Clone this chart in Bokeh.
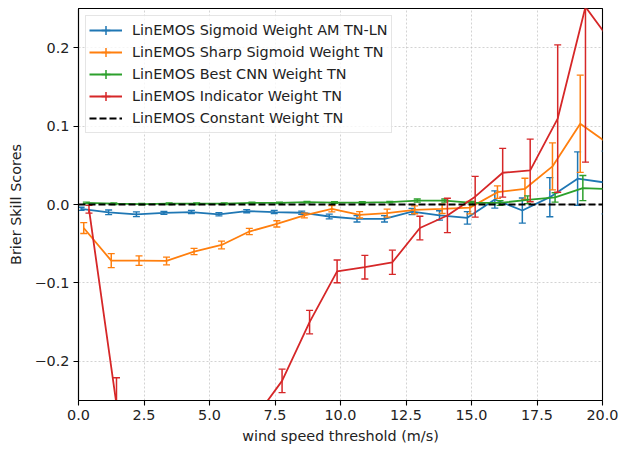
from bokeh.plotting import figure
from bokeh.models import ColumnDataSource, FixedTicker, Legend, LegendItem, Range1d
from bokeh.embed import file_html
from bokeh.resources import INLINE

# ---------------- data ----------------
thresholds = [0.0, 1.05, 2.11, 3.16, 4.21, 5.26, 6.32, 7.37, 8.42, 9.47,
              10.53, 11.58, 12.63, 13.68, 14.74, 15.79, 16.84, 17.89, 18.95, 20.0]

sigmoid_am = [-0.0055, -0.010, -0.0125, -0.0107, -0.0096, -0.0125, -0.0085, -0.0096, -0.0105, -0.0153,
              -0.0183, -0.0183, -0.009, -0.014, -0.017, 0.0064, -0.0077, 0.0094, 0.033, 0.028]
sigmoid_am_err = [0.002, 0.003, 0.003, 0.002, 0.002, 0.002, 0.002, 0.002, 0.002, 0.003,
                  0.004, 0.004, 0.004, 0.006, 0.008, 0.011, 0.016, 0.025, 0.034, 0.04]

sharp_sigmoid = [-0.030, -0.0716, -0.0716, -0.072, -0.060, -0.0516, -0.0345, -0.0247, -0.014, -0.0055,
                 -0.0132, -0.011, -0.0068, -0.0055, -0.004, 0.0157, 0.020, 0.0486, 0.103, 0.078]
sharp_sigmoid_err = [0.007, 0.009, 0.006, 0.005, 0.004, 0.005, 0.004, 0.004, 0.003, 0.004,
                     0.004, 0.005, 0.005, 0.006, 0.008, 0.008, 0.0135, 0.030, 0.062, 0.07]

best_cnn = [0.002, 0.001, 0.0005, 0.001, 0.001, 0.001, 0.002, 0.002, 0.003, 0.0025,
            0.0025, 0.003, 0.005, 0.005, 0.002, 0.002, 0.006, 0.009, 0.021, 0.0197]
best_cnn_err = [0.001, 0.001, 0.001, 0.001, 0.001, 0.001, 0.001, 0.001, 0.001, 0.001,
                0.001, 0.001, 0.002, 0.002, 0.002, 0.003, 0.005, 0.006, 0.016, 0.018]

indicator = [-0.006, -0.255, -0.33, -0.36, -0.35, -0.32, -0.273, -0.225, -0.150, -0.0853,
             -0.080, -0.0737, -0.030, -0.014, 0.010, 0.0405, 0.0435, 0.1096, 0.252, 0.2045]
indicator_err = [0.005, 0.034, 0.03, 0.03, 0.03, 0.025, 0.018, 0.015, 0.015, 0.0145,
                 0.015, 0.0155, 0.015, 0.022, 0.026, 0.031, 0.04, 0.094, 0.198, 0.2]

constant = [0.0] * 20

series_labels = ["LinEMOS Sigmoid Weight AM TN-LN", "LinEMOS Sharp Sigmoid Weight TN",
                 "LinEMOS Best CNN Weight TN", "LinEMOS Indicator Weight TN"]
constant_label = "LinEMOS Constant Weight TN"

x_ticks = [0, 2.5, 5, 7.5, 10, 12.5, 15, 17.5, 20]
x_tick_labels = ["0.0", "2.5", "5.0", "7.5", "10.0", "12.5", "15.0", "17.5", "20.0"]
y_ticks = [-0.2, -0.1, 0.0, 0.1, 0.2]
y_tick_labels = ["\u22120.2", "\u22120.1", "0.0", "0.1", "0.2"]

colors = ["#1f77b4", "#ff7f0e", "#2ca02c", "#d62728"]
dodge = [0.1, 0.2, 0.3, 0.4]

FONT = "DejaVu Sans"
FS = "14.4px"

# ---------------- figure ----------------
p = figure(width=619, height=449, x_range=Range1d(0, 20), y_range=Range1d(-0.25, 0.25),
           output_backend="svg", toolbar_location=None,
           min_border_left=78, min_border_right=17, min_border_top=8, min_border_bottom=49)
p.background_fill_color = "white"
p.border_fill_color = "white"
p.outline_line_color = "black"
p.outline_line_width = 1.1
p.outline_line_alpha = 1.0

for ax in (p.xaxis[0], p.yaxis[0]):
    ax.major_tick_in = 0
    ax.major_tick_out = 5
    ax.minor_tick_line_color = None
    ax.major_label_text_font = FONT
    ax.major_label_text_font_size = FS
    ax.major_label_text_color = "#222222"
    ax.axis_label_text_font = FONT
    ax.axis_label_text_font_size = FS
    ax.axis_label_text_font_style = "normal"
    ax.axis_label_text_color = "#222222"
    ax.axis_line_color = "black"
    ax.axis_line_width = 1.1
    ax.major_tick_line_width = 1.1

p.xaxis.ticker = FixedTicker(ticks=x_ticks)
p.xaxis.major_label_overrides = dict(zip(x_ticks, x_tick_labels))
p.yaxis.ticker = FixedTicker(ticks=y_ticks)
p.yaxis.major_label_overrides = dict(zip(y_ticks, y_tick_labels))
p.xaxis.axis_label = "wind speed threshold (m/s)"
p.yaxis.axis_label = "Brier Skill Scores"
p.xaxis.axis_label_standoff = 5
p.yaxis.axis_label_standoff = 8
p.xaxis.major_label_standoff = 4
p.yaxis.major_label_standoff = 4

for g in (p.xgrid[0], p.ygrid[0]):
    g.grid_line_color = "#c0c0c0"
    g.grid_line_dash = "2 2"
    g.grid_line_width = 0.7

# ---------------- series ----------------
items = []
all_vals = [sigmoid_am, sharp_sigmoid, best_cnn, indicator]
all_errs = [sigmoid_am_err, sharp_sigmoid_err, best_cnn_err, indicator_err]
for label, vals, errs, color, off in zip(series_labels, all_vals, all_errs, colors, dodge):
    xs = [t + off for t in thresholds]
    src = ColumnDataSource(dict(
        x=xs, y=vals,
        lo=[v - e for v, e in zip(vals, errs)],
        hi=[v + e for v, e in zip(vals, errs)],
    ))
    p.segment(x0="x", y0="lo", x1="x", y1="hi", source=src, line_color=color, line_width=1.5)
    p.scatter(x="x", y="lo", source=src, marker="dash", size=7, line_color=color, line_width=1.3)
    p.scatter(x="x", y="hi", source=src, marker="dash", size=7, line_color=color, line_width=1.3)
    lr = p.line(x="x", y="y", source=src, line_color=color, line_width=1.8)
    # legend-only error bar icon (zero size on the plot)
    icon = p.scatter(x="x", y="y", source=src, marker="cross", size=0, line_color=color, line_width=1.5)
    items.append(LegendItem(label=label, renderers=[lr, icon]))

csrc = ColumnDataSource(dict(x=thresholds, y=constant))
cr = p.line(x="x", y="y", source=csrc, line_color="black", line_width=1.8, line_dash="7 3")
items.append(LegendItem(label=constant_label, renderers=[cr]))

legend = Legend(items=items, location="top_left")
legend.margin = 7
legend.padding = 3
legend.spacing = 0
legend.glyph_height = 22
legend.glyph_width = 33
legend.label_standoff = 10
legend.label_height = 16
legend.label_text_font = FONT
legend.label_text_font_size = FS
legend.label_text_color = "#222222"
legend.background_fill_color = "white"
legend.background_fill_alpha = 0.8
legend.border_line_color = "#cccccc"
legend.border_line_width = 1
p.add_layout(legend, "center")

open("out.html", "w").write(file_html(p, INLINE))
